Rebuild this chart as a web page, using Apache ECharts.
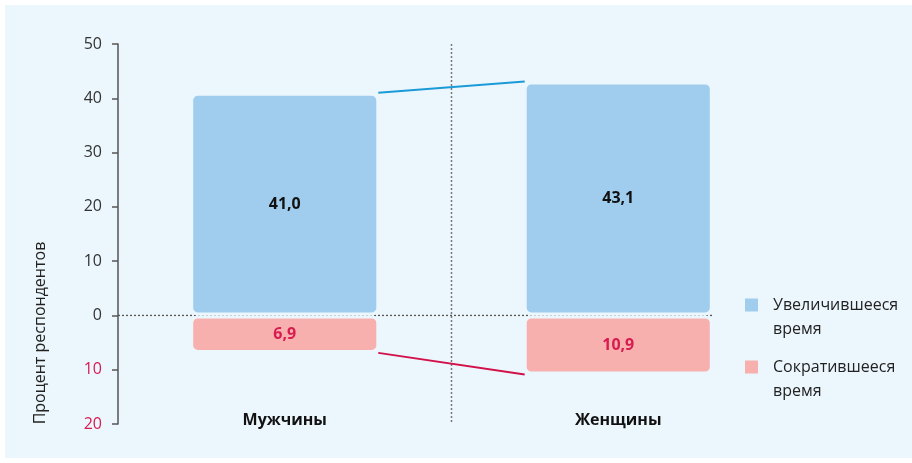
<!DOCTYPE html>
<html>
<head>
<meta charset="utf-8">
<script src="https://cdn.jsdelivr.net/npm/echarts@6/dist/echarts.min.js"></script>
<style>
html,body{margin:0;padding:0;background:#fff;}
#c{width:912px;height:463px;}
</style>
</head>
<body>
<div id="c"></div>
<script>
const categories = ['Мужчины', 'Женщины'];
const increased = [41.0, 43.1];
const decreased = [6.9, 10.9];
const seriesNames = ['Увеличившееся\nвремя', 'Сократившееся\nвремя'];
const yAxisTitle = 'Процент респондентов';

const BG = '#ecf7fd';
const BLUE = '#a0cdee';
const PINK = '#f7b0ae';
const BLUE_LINE = '#1a9ad6';
const RED_LINE = '#d2104a';
const RED_TEXT = '#d81b50';
const FONT = '"Open Sans", "Noto Sans", sans-serif';
const BAR_FRAC = 0.567;
const LEGEND_ICON = 'path://M0,0L13,0L13,13L0,13Z M23,37L23.01,37';

const fmt = v => v.toFixed(1).replace('.', ',');

const chart = echarts.init(document.getElementById('c'), null, {renderer: 'canvas'});

function connector(values, color) {
  return {
    type: 'custom',
    silent: true,
    z: 5,
    data: [[0, values[0], 1, values[1]]],
    renderItem: function (params, api) {
      const p0 = api.coord([api.value(0), api.value(1)]);
      const p1 = api.coord([api.value(2), api.value(3)]);
      const band = api.size([1, 0])[0];
      const half = band * BAR_FRAC / 2;
      return {
        type: 'line',
        shape: {x1: p0[0] + half - 1, y1: p0[1], x2: p1[0] - half + 1, y2: p1[1]},
        style: {stroke: color, lineWidth: 2}
      };
    }
  };
}

const option = {
  backgroundColor: '#fff',
  animation: false,
  textStyle: {fontFamily: FONT},
  graphic: [
    {type: 'rect', z: -10, silent: true, shape: {x: 5, y: 5, width: 907, height: 453}, style: {fill: BG}},
    {type: 'text', silent: true, x: 40, y: 333, rotation: Math.PI / 2,
     style: {text: yAxisTitle, fill: '#222', font: '16px ' + FONT, align: 'center', verticalAlign: 'middle'}}
  ],
  grid: {left: 118, right: 127, top: 44, bottom: 39, containLabel: false},
  legend: {
    orient: 'vertical',
    left: 745,
    top: 293,
    itemWidth: 23,
    itemHeight: 37,
    itemGap: 14,
    padding: 0,
    data: seriesNames.map(n => ({name: n, icon: LEGEND_ICON})),
    itemStyle: {borderWidth: 0},
    textStyle: {fontSize: 16, color: '#222', lineHeight: 24, fontFamily: FONT},
    selectedMode: false
  },
  xAxis: {
    type: 'category',
    data: categories,
    axisLine: {show: false, onZero: false},
    axisTick: {show: false},
    splitLine: {show: false},
    axisLabel: {margin: -12, fontSize: 16, fontWeight: 'bold', color: '#111', fontFamily: FONT}
  },
  yAxis: {
    type: 'value',
    min: -20,
    max: 50,
    interval: 10,
    axisLine: {show: true, lineStyle: {color: '#555', width: 1.5}},
    axisTick: {show: true, length: 6, lineStyle: {color: '#555', width: 1.5}},
    splitLine: {show: false},
    axisLabel: {
      margin: 16,
      fontSize: 16,
      color: '#333',
      fontFamily: FONT,
      formatter: v => v < 0 ? '{n|' + Math.abs(v) + '}' : String(v),
      rich: {n: {color: RED_TEXT, fontSize: 16, fontFamily: FONT}}
    }
  },
  series: [
    {
      name: seriesNames[0],
      type: 'bar',
      stack: 'a',
      barWidth: (BAR_FRAC * 100) + '%',
      data: increased,
      itemStyle: {color: BLUE, borderColor: BG, borderWidth: 3, borderRadius: 6},
      label: {show: true, position: 'inside', formatter: p => fmt(p.value), color: '#111', fontWeight: 'bold', fontSize: 16, fontFamily: FONT},
      z: 3
    },
    {
      name: seriesNames[1],
      type: 'bar',
      stack: 'a',
      barWidth: (BAR_FRAC * 100) + '%',
      data: decreased.map(v => -v),
      itemStyle: {color: PINK, borderColor: BG, borderWidth: 3, borderRadius: 6},
      label: {show: true, position: 'inside', formatter: p => fmt(Math.abs(p.value)), color: RED_TEXT, fontWeight: 'bold', fontSize: 16, fontFamily: FONT},
      z: 3
    },
    {
      type: 'custom',
      silent: true,
      z: 1,
      data: [[0, 1]],
      renderItem: function (params, api) {
        const c0 = api.coord([0, 0]);
        const c1 = api.coord([1, 0]);
        const band = api.size([1, 0])[0];
        const top = api.coord([0, 50])[1];
        const bottom = api.coord([0, -20])[1];
        const midX = (c0[0] + c1[0]) / 2;
        const leftX = c0[0] - band / 2;
        const rightX = c1[0] + band * BAR_FRAC / 2;
        return {
          type: 'group',
          children: [
            {type: 'line', shape: {x1: midX, y1: top, x2: midX, y2: bottom},
             style: {stroke: '#777', lineWidth: 1.5, lineDash: [2, 2]}},
            {type: 'line', shape: {x1: leftX, y1: c0[1], x2: rightX, y2: c0[1]},
             style: {stroke: '#555', lineWidth: 1.3, lineDash: [2, 2]}}
          ]
        };
      }
    },
    connector(increased, BLUE_LINE),
    connector(decreased.map(v => -v), RED_LINE)
  ]
};

chart.setOption(option);
</script>
</body>
</html>
